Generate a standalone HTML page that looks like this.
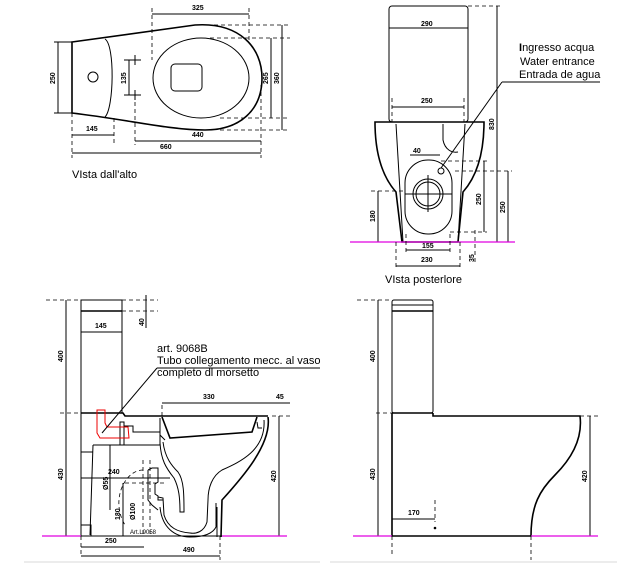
<!DOCTYPE html>
<html><head><meta charset="utf-8"><style>
html,body{margin:0;padding:0;background:#fff;}
svg{display:block;font-family:"Liberation Sans",sans-serif;}
.l{stroke:#000;stroke-width:1;fill:none}
.t{stroke:#000;stroke-width:1.6;fill:none}
.d{stroke:#000;stroke-width:0.8;fill:none;stroke-dasharray:4,3}
.n{font-size:7px;font-weight:bold}
.b{font-size:11px}
.m{stroke:#e000e0;stroke-width:1.2}
</style></head><body>
<svg width="617" height="578" viewBox="0 0 617 578" xmlns="http://www.w3.org/2000/svg">
<!-- TOP VIEW -->
<path class="t" d="M72,42 L195,25 C240,22 262,48 262,78 C262,110 240,130 205,130 C170,130 130,120 72,113 Z"/>
<line class="l" x1="72" y1="42" x2="72" y2="113"/>
<path class="l" d="M105,39 C115,45 114,108 105,117"/>
<circle class="l" cx="93" cy="77" r="5"/>
<ellipse class="l" cx="201" cy="78" rx="48" ry="40"/>
<rect class="l" x="171" y="64" width="31" height="27" rx="4"/>
<line class="d" x1="152" y1="8" x2="152" y2="60"/>
<line class="d" x1="249" y1="8" x2="249" y2="40"/>
<line class="l" x1="152" y1="14" x2="249" y2="14"/>
<text class="n" x="192" y="10">325</text>
<line class="l" x1="58" y1="42" x2="58" y2="113"/>
<line class="l" x1="54" y1="42" x2="72" y2="42"/><line class="l" x1="54" y1="113" x2="72" y2="113"/>
<text class="n" transform="translate(55,84) rotate(-90)">250</text>
<line class="l" x1="129" y1="60" x2="129" y2="95"/>
<line class="l" x1="124" y1="60" x2="141" y2="60"/><line class="l" x1="124" y1="95" x2="141" y2="95"/>
<line class="l" x1="135" y1="55" x2="135" y2="65"/><line class="l" x1="135" y1="90" x2="135" y2="100"/>
<text class="n" transform="translate(126,84) rotate(-90)">135</text>
<line class="d" x1="210" y1="38" x2="290" y2="38"/><line class="d" x1="220" y1="118" x2="290" y2="118"/>
<line class="d" x1="200" y1="25" x2="288" y2="25"/><line class="d" x1="220" y1="130" x2="288" y2="130"/>
<line class="l" x1="271" y1="38" x2="271" y2="118"/>
<line class="l" x1="282" y1="25" x2="282" y2="130"/>
<text class="n" transform="translate(268,84) rotate(-90)">265</text>
<text class="n" transform="translate(279,84) rotate(-90)">360</text>
<line class="d" x1="72" y1="113" x2="72" y2="158"/><line class="d" x1="114" y1="118" x2="114" y2="145"/>
<line class="d" x1="135" y1="95" x2="135" y2="145"/><line class="d" x1="261" y1="85" x2="261" y2="158"/>
<line class="l" x1="72" y1="135" x2="114" y2="135"/><text class="n" x="86" y="131">145</text>
<line class="l" x1="135" y1="141" x2="261" y2="141"/><text class="n" x="192" y="137">440</text>
<line class="l" x1="72" y1="153" x2="261" y2="153"/><text class="n" x="160" y="149">660</text>
<text class="b" x="72" y="178">VIsta dall'alto</text>

<!-- REAR VIEW -->
<rect class="l" x="389" y="6" width="79" height="116" rx="3"/>
<line class="l" x1="389" y1="28" x2="468" y2="28"/>
<text class="n" x="421" y="26">290</text>
<line class="l" x1="392" y1="107" x2="464" y2="107"/><text class="n" x="421" y="103">250</text>
<line class="d" x1="392" y1="98" x2="392" y2="122"/><line class="d" x1="464" y1="98" x2="464" y2="122"/>
<path class="t" d="M375,122 L484,122 C484,150 478,175 463,192 L458,242 L402,242 L396,192 C381,175 375,150 375,122 Z"/>
<path class="l" d="M396,124 L403,242 M465,124 L458,242"/>
<path class="l" d="M443,124 L443,140 C445,150 452,153 458,152"/>
<rect class="l" x="405" y="160" width="47" height="74" rx="23"/>
<circle class="l" cx="428" cy="194" r="15"/><circle class="l" cx="428" cy="194" r="12"/>
<line class="l" x1="405" y1="194" x2="452" y2="194"/><line class="l" x1="428" y1="175" x2="428" y2="212"/>
<circle class="l" cx="441" cy="171" r="3"/>
<line class="l" x1="441" y1="168" x2="502" y2="82"/><line class="l" x1="502" y1="82" x2="600" y2="82"/>
<text class="b" x="519" y="51"><tspan font-weight="bold">I</tspan>ngresso acqua</text>
<text class="b" x="520" y="65">Water entrance</text>
<text class="b" x="519" y="78">Entrada de agua</text>
<line class="l" x1="410" y1="155" x2="440" y2="155"/><text class="n" x="413" y="153">40</text>
<line class="d" x1="468" y1="6" x2="503" y2="6"/>
<line class="l" x1="497" y1="6" x2="497" y2="242"/><text class="n" transform="translate(494,130) rotate(-90)">830</text>
<line class="d" x1="441" y1="161" x2="487" y2="161"/><line class="d" x1="450" y1="232" x2="487" y2="232"/>
<line class="l" x1="484" y1="161" x2="484" y2="232"/><text class="n" transform="translate(481,205) rotate(-90)">250</text>
<line class="d" x1="455" y1="171" x2="512" y2="171"/>
<line class="l" x1="508" y1="171" x2="508" y2="242"/><text class="n" transform="translate(505,213) rotate(-90)">250</text>
<line class="d" x1="371" y1="191" x2="405" y2="191"/>
<line class="l" x1="378" y1="191" x2="378" y2="242"/><text class="n" transform="translate(375,222) rotate(-90)">180</text>
<line class="m" x1="350" y1="242" x2="515" y2="242"/>
<line class="d" x1="406" y1="234" x2="406" y2="252"/><line class="d" x1="450" y1="234" x2="450" y2="252"/>
<line class="l" x1="406" y1="250" x2="450" y2="250"/><text class="n" x="422" y="248">155</text>
<line class="d" x1="396" y1="242" x2="396" y2="270"/><line class="d" x1="460" y1="242" x2="460" y2="270"/>
<line class="l" x1="396" y1="266" x2="460" y2="266"/><text class="n" x="421" y="262">230</text>
<line class="d" x1="475" y1="230" x2="475" y2="262"/><text class="n" transform="translate(474,262) rotate(-90)">35</text>
<text class="b" x="385" y="283">VIsta posterlore</text>

<!-- SIDE VIEW SECTION -->
<line class="d" x1="46" y1="300" x2="81" y2="300"/>
<rect class="l" x="81" y="300" width="41" height="113"/>
<line class="t" x1="81" y1="311" x2="122" y2="311"/>
<line class="l" x1="81" y1="332" x2="122" y2="332"/><text class="n" x="95" y="328">145</text>
<line class="d" x1="122" y1="300" x2="158" y2="300"/><line class="d" x1="122" y1="311" x2="158" y2="311"/>
<line class="l" x1="146" y1="295" x2="146" y2="328"/><text class="n" transform="translate(144,326) rotate(-90)">40</text>
<line class="l" x1="66" y1="300" x2="66" y2="536"/>
<line class="d" x1="60" y1="413" x2="81" y2="413"/>
<text class="n" transform="translate(63,362) rotate(-90)">400</text>
<text class="n" transform="translate(63,480) rotate(-90)">430</text>
<path class="t" d="M81,413 L123,413 L125,416 L268,416"/>
<line class="l" x1="81" y1="413" x2="81" y2="536"/>
<path class="l" d="M81,452 L93,452 M93,445 L90,535 M81,525 L91,525 L91,536 M81,478 L170,478"/>
<path class="l" d="M93,445 L160,445"/>
<!-- seat -->
<path class="t" d="M162,417 L170,438 L252,432 L257,417"/>
<path class="l" d="M160,418 L160,435 L165,440"/>
<path class="l" d="M257,422 L258,428 L262,428"/>
<!-- outer front profile -->
<path class="t" d="M268,417 C272,445 240,480 222,500 L221,537"/>
<path class="l" d="M264,420 C266,450 240,462 222,470 C212,476 208,488 208,500 L207,522 C204,532 196,534 190,533 C178,532 168,528 164,515 L163,498 L158,497"/>
<path class="l" d="M216,503 L216,527 C212,535 200,537 190,537 C175,537 162,528 160,507"/>
<path class="l" d="M217,507 L217,537"/>
<!-- trap back walls -->
<path class="l" d="M163,442 C165,458 172,466 178,472 C184,480 184,495 184,512 L180,512 C180,498 179,488 174,478 C166,468 161,460 160,443"/>
<!-- connector pipe -->
<path class="l" d="M124,426 L133,426 L133,432 L160,432 L160,445 M124,445 L133,445"/>
<rect class="l" x="120" y="422" width="4" height="23"/>
<path d="M97,410 L105,410 L105,423 L107,427 L128,427 L129,438 L100,438 L97,433 Z" fill="none" stroke="#e00" stroke-width="1"/>
<line class="l" x1="102" y1="433" x2="157" y2="368"/>
<line class="l" x1="157" y1="368" x2="320" y2="368"/>
<text class="b" x="157" y="352">art. 9068B</text>
<text class="b" x="157" y="364">Tubo collegamento mecc. al vaso</text>
<text class="b" x="157" y="376">completo dl morsetto</text>
<line class="l" x1="110" y1="445" x2="110" y2="510"/><text class="n" transform="translate(108,490) rotate(-90)">Ø55</text>
<path class="d" d="M143,470 C125,470 110,500 125,525"/>
<line class="l" x1="81" y1="478" x2="143" y2="478"/><text class="n" x="108" y="474">240</text>
<line class="d" x1="143" y1="460" x2="143" y2="536"/><line class="d" x1="150" y1="460" x2="150" y2="536"/>
<line class="d" x1="125" y1="483" x2="165" y2="483"/>
<line class="l" x1="123" y1="483" x2="123" y2="536"/><text class="n" transform="translate(120,520) rotate(-90)">180</text>
<text class="n" transform="translate(135,520) rotate(-90)">Ø100</text>
<path class="l" d="M148,470 L152,468 L158,468 L158,482 L155,484 L155,494 L158,496 L158,500 L163,500 M148,470 L148,500 L152,505 L158,510"/>
<text style="font-size:6px" x="130" y="534">Art.L9058</text>
<line class="d" x1="162" y1="405" x2="162" y2="417"/>
<line class="l" x1="162" y1="403" x2="255" y2="403"/><text class="n" x="203" y="399">330</text>
<line class="l" x1="255" y1="403" x2="290" y2="403"/><text class="n" x="276" y="399">45</text>
<line class="d" x1="272" y1="416" x2="290" y2="416"/>
<line class="l" x1="279" y1="416" x2="279" y2="536"/><text class="n" transform="translate(276,482) rotate(-90)">420</text>
<line class="l" x1="42" y1="536" x2="222" y2="536"/>
<line class="m" x1="42" y1="536" x2="81" y2="536"/><line class="m" x1="222" y1="536" x2="287" y2="536"/>
<line class="d" x1="81" y1="536" x2="81" y2="557"/><line class="d" x1="220" y1="536" x2="220" y2="560"/>
<line class="l" x1="81" y1="547" x2="144" y2="547"/><text class="n" x="105" y="543">250</text>
<line class="l" x1="81" y1="556" x2="220" y2="556"/><text class="n" x="183" y="552">490</text>
<line x1="24" y1="562" x2="320" y2="562" stroke="#ccc" stroke-width="0.8"/>

<!-- RIGHT SIDE VIEW -->
<line class="d" x1="357" y1="300" x2="392" y2="300"/>
<rect class="l" x="392" y="300" width="41" height="113" rx="2"/>
<line class="l" x1="392" y1="305" x2="433" y2="305"/><line class="t" x1="392" y1="311" x2="433" y2="311"/>
<line class="l" x1="378" y1="300" x2="378" y2="536"/>
<line class="d" x1="376" y1="413" x2="392" y2="413"/>
<text class="n" transform="translate(375,362) rotate(-90)">400</text>
<text class="n" transform="translate(375,480) rotate(-90)">430</text>
<line class="t" x1="392" y1="413" x2="433" y2="413"/>
<path class="t" d="M392,413 L392,536 L531,536 M433,413 L433,416 L580,416 C583,440 570,460 555,475 C540,490 531,505 531,536"/>
<line class="d" x1="580" y1="416" x2="598" y2="416"/>
<line class="l" x1="590" y1="416" x2="590" y2="536"/><text class="n" transform="translate(587,482) rotate(-90)">420</text>
<line class="m" x1="353" y1="536" x2="392" y2="536"/><line class="m" x1="531" y1="536" x2="598" y2="536"/>
<line class="d" x1="435" y1="500" x2="435" y2="522"/><line class="l" x1="392" y1="519" x2="435" y2="519"/>
<text class="n" x="408" y="515">170</text><circle cx="435" cy="528" r="1.3" fill="#000"/>
<line class="d" x1="392" y1="536" x2="392" y2="557"/><line class="d" x1="531" y1="536" x2="531" y2="560"/>
<line x1="330" y1="562" x2="617" y2="562" stroke="#ccc" stroke-width="0.8"/>
</svg>
</body></html>
